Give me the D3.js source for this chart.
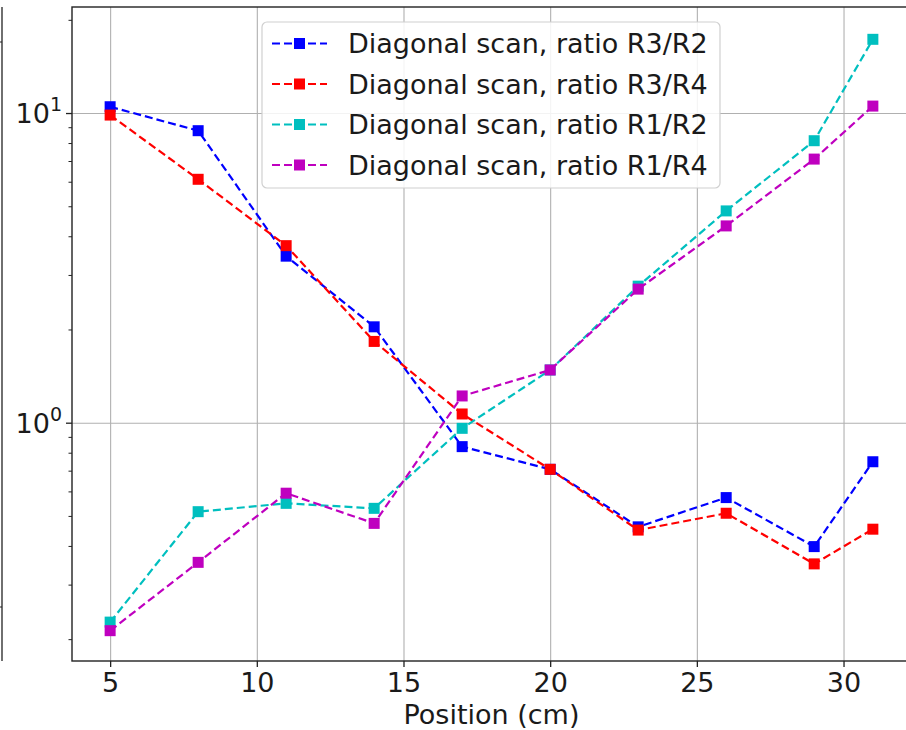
<!DOCTYPE html>
<html>
<head>
<meta charset="utf-8">
<script src="https://cdn.jsdelivr.net/npm/d3@7"></script>
<style>
  html, body { margin: 0; padding: 0; background: #ffffff; }
  svg { display: block; font-family: "DejaVu Sans", sans-serif; }
</style>
</head>
<body>
<svg id="chart" width="906" height="730"></svg>
<script>
// ---- data ----
const positions = [5, 8, 11, 14, 17, 20, 23, 26, 29, 31];
const ratioR3R2 = [10.48, 8.77, 3.45, 2.04, 0.837, 0.707, 0.461, 0.573, 0.398, 0.748];
const ratioR3R4 = [9.85, 6.11, 3.73, 1.83, 1.067, 0.707, 0.450, 0.510, 0.350, 0.453];
const ratioR1R2 = [0.227, 0.516, 0.549, 0.529, 0.959, 1.48, 2.76, 4.83, 8.14, 17.3];
const ratioR1R4 = [0.213, 0.354, 0.592, 0.473, 1.22, 1.48, 2.70, 4.32, 7.10, 10.53];
const seriesNames = ["Diagonal scan, ratio R3/R2", "Diagonal scan, ratio R3/R4",
                     "Diagonal scan, ratio R1/R2", "Diagonal scan, ratio R1/R4"];
const seriesColors = ["#0000ff", "#ff0000", "#00bfbf", "#bf00bf"];
const xTicks = [5, 10, 15, 20, 25, 30];
const yMajorTicks = [1, 10];
const yMajorLabels = [["10", "0"], ["10", "1"]];
const yMinorTicks = [0.2, 0.3, 0.4, 0.5, 0.6, 0.7, 0.8, 0.9, 2, 3, 4, 5, 6, 7, 8, 9, 20];
const xLabel = "Position (cm)";

const seriesValues = [ratioR3R2, ratioR3R4, ratioR1R2, ratioR1R4];

// ---- layout ----
const svg = d3.select("#chart");
const pL = 72, pR = 911, pT = 7, pB = 661;
const fs = 27;

const x = d3.scaleLinear().domain([3.7, 32.3]).range([pL, pR]);
const y = d3.scaleLog().domain([0.170, 22.0]).range([pB, pT]);

// neighbouring panel edge at far left
svg.append("line").attr("x1", 2).attr("x2", 2).attr("y1", pT).attr("y2", pB)
  .attr("stroke", "#222").attr("stroke-width", 1.3);
[42, 607].forEach(v => svg.append("line").attr("x1", 0).attr("x2", 2).attr("y1", v).attr("y2", v)
  .attr("stroke", "#222").attr("stroke-width", 1));

// grid
const grid = svg.append("g");
grid.append("g").attr("transform", `translate(0,${pB})`)
  .call(d3.axisBottom(x).tickValues(xTicks).tickSize(-(pB - pT)).tickFormat(""))
  .call(g => g.select(".domain").remove())
  .call(g => g.selectAll("line").attr("stroke", "#b0b0b0").attr("stroke-width", 1.1));
grid.append("g").attr("transform", `translate(${pL},0)`)
  .call(d3.axisLeft(y).tickValues(yMajorTicks).tickSize(-(pR - pL)).tickFormat(""))
  .call(g => g.select(".domain").remove())
  .call(g => g.selectAll("line").attr("stroke", "#b0b0b0").attr("stroke-width", 1.1));

// series
const line = d3.line().x(d => x(d[0])).y(d => y(d[1]));
const ms = 11;
seriesValues.forEach((vals, i) => {
  const pts = positions.map((p, j) => [p, vals[j]]);
  svg.append("path").datum(pts).attr("d", line)
    .attr("fill", "none").attr("stroke", seriesColors[i])
    .attr("stroke-width", 2.2).attr("stroke-dasharray", "8,4");
  svg.append("g").selectAll("rect").data(pts).join("rect")
    .attr("x", d => x(d[0]) - ms / 2).attr("y", d => y(d[1]) - ms / 2)
    .attr("width", ms).attr("height", ms).attr("fill", seriesColors[i]);
});

// spines
svg.append("rect").attr("x", pL).attr("y", pT).attr("width", pR - pL).attr("height", pB - pT)
  .attr("fill", "none").attr("stroke", "#222").attr("stroke-width", 1.4);

// x axis
const xAxis = svg.append("g").attr("transform", `translate(0,${pB})`)
  .call(d3.axisBottom(x).tickValues(xTicks).tickSize(6).tickPadding(6).tickFormat(d3.format("d")));
xAxis.select(".domain").remove();
xAxis.selectAll("line").attr("stroke", "#222").attr("stroke-width", 1.3);
xAxis.selectAll("text").attr("font-size", fs).attr("fill", "#1a1a1a")
  .attr("font-family", "DejaVu Sans").attr("dy", "0.71em").attr("y", 12);

// y axis ticks
const yAxisMinor = svg.append("g").attr("transform", `translate(${pL},0)`)
  .call(d3.axisLeft(y).tickValues(yMinorTicks).tickSize(3.5).tickFormat(""));
yAxisMinor.select(".domain").remove();
yAxisMinor.selectAll("line").attr("stroke", "#222").attr("stroke-width", 1);
const yAxis = svg.append("g").attr("transform", `translate(${pL},0)`)
  .call(d3.axisLeft(y).tickValues(yMajorTicks).tickSize(6).tickFormat(""));
yAxis.select(".domain").remove();
yAxis.selectAll("line").attr("stroke", "#222").attr("stroke-width", 1.3);
yMajorTicks.forEach((t, i) => {
  const txt = svg.append("text").attr("x", pL - 10).attr("y", y(t) + 10)
    .attr("text-anchor", "end").attr("font-size", fs).attr("fill", "#1a1a1a");
  txt.append("tspan").text(yMajorLabels[i][0]);
  txt.append("tspan").attr("font-size", 19).attr("dy", -12).text(yMajorLabels[i][1]);
});

// x label
svg.append("text").attr("x", (pL + pR) / 2).attr("y", 724)
  .attr("text-anchor", "middle").attr("font-size", fs).attr("fill", "#1a1a1a").text(xLabel);

// legend
const lg = svg.append("g");
lg.append("rect").attr("x", 262).attr("y", 22).attr("width", 458).attr("height", 166)
  .attr("rx", 5).attr("fill", "#ffffff").attr("fill-opacity", 0.85)
  .attr("stroke", "#d0d0d0").attr("stroke-width", 1.2);
seriesNames.forEach((name, i) => {
  const cy = 43.5 + i * 40.5;
  lg.append("line").attr("x1", 272).attr("x2", 327).attr("y1", cy).attr("y2", cy)
    .attr("stroke", seriesColors[i]).attr("stroke-width", 2.2).attr("stroke-dasharray", "8,4");
  lg.append("rect").attr("x", 299.5 - ms / 2).attr("y", cy - ms / 2).attr("width", ms).attr("height", ms)
    .attr("fill", seriesColors[i]);
  lg.append("text").attr("x", 348).attr("y", cy + 9.5).attr("font-size", fs)
    .attr("fill", "#1a1a1a").text(name);
});
</script>
</body>
</html>
